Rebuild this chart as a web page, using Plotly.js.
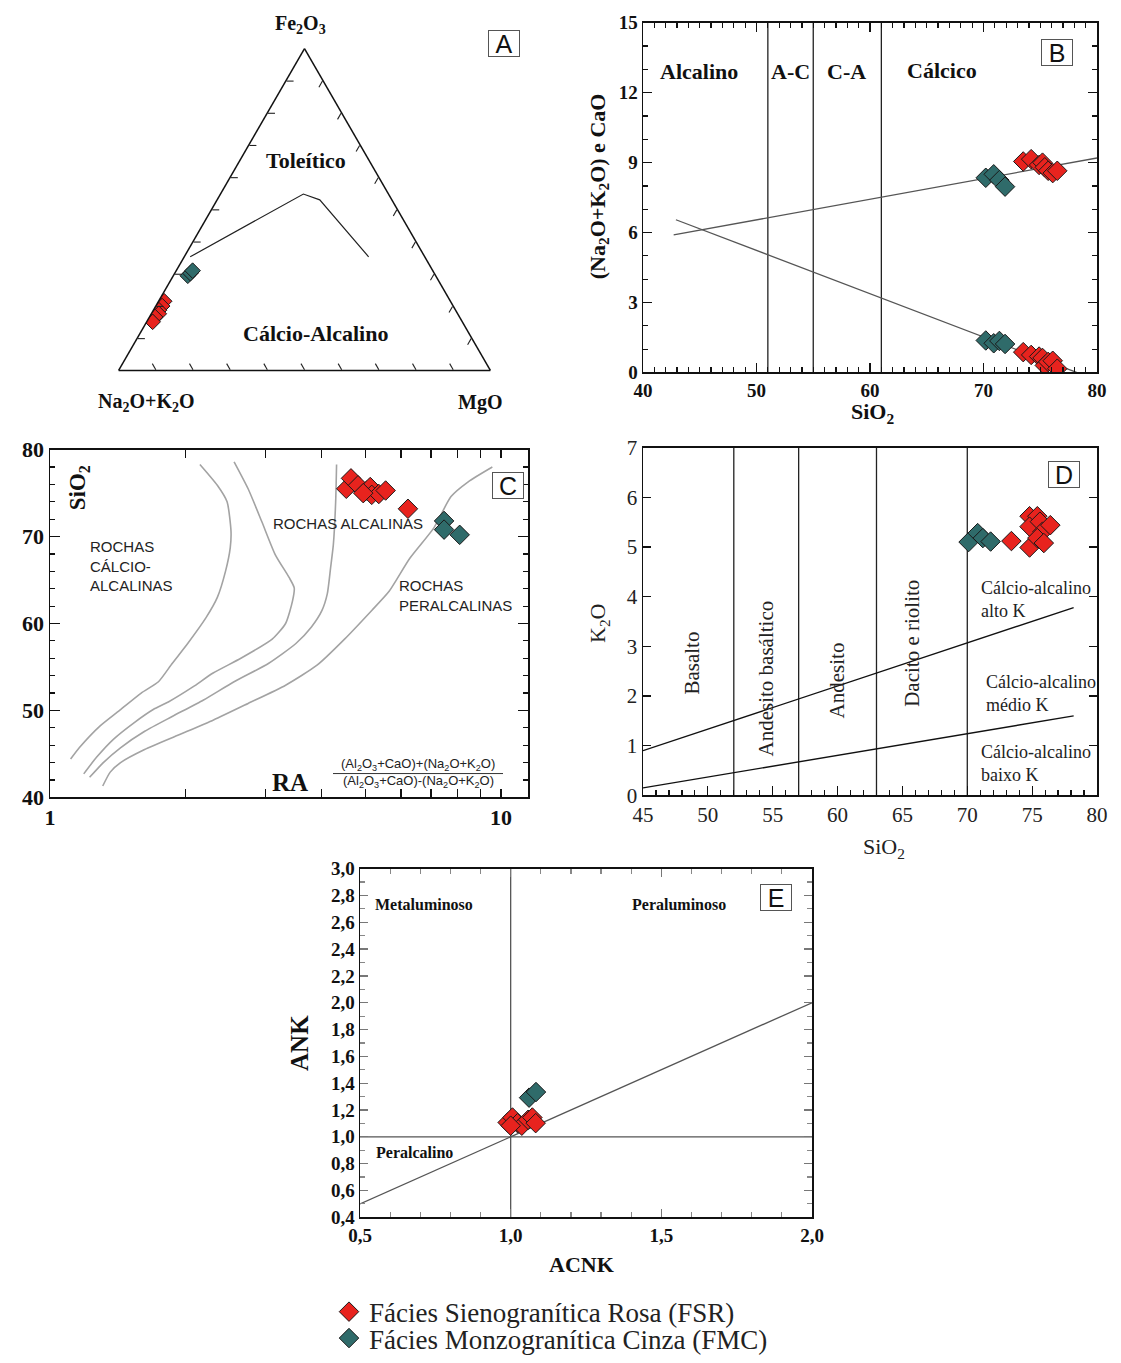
<!DOCTYPE html>
<html>
<head>
<meta charset="utf-8">
<script src="https://cdn.plot.ly/plotly-3.0.1.min.js"></script>
<style>html,body{margin:0;padding:0;background:#fff;}#chart{width:1121px;height:1363px;}</style>
</head>
<body>
<div id="chart"></div>
<script>
// ---------------- DATA ----------------
// Panel A (AFM ternary): a = Fe2O3, b = Na2O+K2O, c = MgO
const FSR_A_Fe  = [21.5, 20.0, 18.7, 17.6, 16.6, 15.1];
const FSR_A_Alk = [77.0, 78.3, 79.8, 80.4, 81.9, 83.3];
const FSR_A_Mg  = [1.5, 1.7, 1.5, 2.0, 1.5, 1.6];
const FMC_A_Fe  = [29.4, 30.2, 31.0];
const FMC_A_Alk = [66.7, 65.6, 64.6];
const FMC_A_Mg  = [3.9, 4.2, 4.4];
const A_line_Fe  = [35.3, 54.8, 53.0, 35.3];
const A_line_Alk = [63.1, 22.9, 19.4, 15.1];
const A_line_Mg  = [1.6, 22.3, 27.6, 49.6];

// Panel B (Peacock)
const FSR_B_SiO2 = [73.5, 74.2, 74.9, 75.2, 75.4, 75.7, 76.1, 76.5];
const FSR_B_Alk  = [9.05, 9.15, 8.9, 9.0, 8.8, 8.65, 8.55, 8.65];
const FSR_B_CaO  = [0.87, 0.75, 0.68, 0.62, 0.3, 0.45, 0.5, 0.16];
const FMC_B_SiO2 = [70.2, 70.9, 71.4, 71.9];
const FMC_B_Alk  = [8.35, 8.5, 8.25, 7.97];
const FMC_B_CaO  = [1.37, 1.25, 1.35, 1.22];
const B_alk_line_x = [42.7, 80.0], B_alk_line_y = [5.9, 9.2];
const B_cao_line_x = [42.9, 78.2], B_cao_line_y = [6.55, 0.0];
const B_dividers = [51, 55, 61];

// Panel C (Wright RA)
const FSR_C_RA   = [4.54, 4.65, 4.82, 5.04, 5.13, 5.17, 5.36, 5.55, 6.22, 4.95];
const FSR_C_SiO2 = [75.5, 76.7, 75.9, 75.3, 75.7, 74.8, 74.9, 75.3, 73.2, 75.0];
const FMC_C_RA   = [7.48, 7.48, 8.10];
const FMC_C_SiO2 = [71.8, 70.8, 70.2];
const C_curve1_RA = [1.111,1.161,1.290,1.434,1.593,1.740,1.866,2.02,2.22,2.35,2.45,2.51,2.52,2.47,2.35,2.15];
const C_curve1_Si = [44.4,45.7,48.2,50.1,52.0,53.3,55.4,57.7,60.7,63.0,66.0,68.7,70.6,74.0,75.9,78.3];
const C_curve2_RA = [1.188,1.268,1.384,1.538,1.694,1.834,2.074,2.30,2.65,3.11,3.33,3.45,3.48,3.39,3.16,2.95,2.75,2.56];
const C_curve2_Si = [42.7,44.6,46.7,48.6,50.1,51.0,52.7,54.3,56.0,58.2,60.0,62.6,64.1,65.3,67.9,71.7,75.5,78.6];
const C_curve3_RA = [1.224,1.313,1.433,1.622,1.866,2.19,2.56,3.05,3.51,3.80,4.01,4.12,4.19,4.25,4.30,4.32];
const C_curve3_Si = [42.3,44.0,45.7,47.6,49.3,51.2,53.3,55.4,57.7,59.6,61.5,63.4,66.4,69.1,74.0,78.3];
const C_curve4_RA = [1.309,1.360,1.434,1.621,1.933,2.305,2.75,3.33,3.91,4.50,5.17,5.65,6.28,7.10,7.75,8.46,9.57];
const C_curve4_Si = [41.3,42.9,44.0,45.5,47.2,48.9,50.8,52.9,55.2,58.2,61.5,63.7,67.5,71.0,74.6,76.3,78.0];
const C_major_ticks = [1, 10];
const C_minor_ticks = [2, 3, 4, 5, 6, 7, 8, 9];

// Panel D (K2O x SiO2)
const FSR_D_SiO2 = [73.4, 74.8, 75.4, 74.8, 74.8, 75.6, 75.8, 75.4, 75.9, 76.4];
const FSR_D_K2O  = [5.12, 5.62, 5.62, 5.41, 4.99, 5.51, 5.31, 5.18, 5.08, 5.44];
const FMC_D_SiO2 = [70.1, 70.8, 71.2, 71.8];
const FMC_D_K2O  = [5.10, 5.28, 5.18, 5.11];
const D_high_x = [45, 78.2], D_high_y = [0.9, 3.78];
const D_low_x  = [45, 78.2], D_low_y  = [0.15, 1.6];
const D_dividers = [52, 57, 63, 70];

// Panel E (Shand)
const FSR_E_ACNK = [0.99, 1.006, 1.023, 1.037, 1.058, 1.072, 1.083, 1.0];
const FSR_E_ANK  = [1.107, 1.144, 1.102, 1.083, 1.127, 1.144, 1.102, 1.083];
const FMC_E_ACNK = [1.061, 1.084];
const FMC_E_ANK  = [1.292, 1.334];
const E_diag = [0.5, 2.0];

const seriesNames = ['Fácies Sienogranítica Rosa (FSR)', 'Fácies Monzogranítica Cinza (FMC)'];

// ---------------- STYLE ----------------
const W = 1121, H = 1363;
const px = v => v / W, py = v => 1 - v / H;
const RED = '#e8231e', TEAL = '#2f6b6a';
const SERIF = 'Liberation Serif, Times New Roman, serif';
const SANS = 'Liberation Sans, Arial, sans-serif';
const serifB = s => ({family: SERIF, size: s, color: '#111', weight: 'bold'});
const serifR = s => ({family: SERIF, size: s, color: '#222'});
const sans = s => ({family: SANS, size: s, color: '#222'});
const mk = (c, s) => ({symbol: 'diamond', size: s || 15, color: c, line: {color: '#1a1a1a', width: 1}});

const traces = [];
// A
traces.push({type:'scatterternary', subplot:'ternary', mode:'lines', a:A_line_Fe, b:A_line_Alk, c:A_line_Mg,
  line:{color:'#222', width:1.2}, showlegend:false, hoverinfo:'skip'});
traces.push({type:'scatterternary', subplot:'ternary', mode:'markers', a:FSR_A_Fe, b:FSR_A_Alk, c:FSR_A_Mg,
  marker:mk(RED, 12), showlegend:false});
traces.push({type:'scatterternary', subplot:'ternary', mode:'markers', a:FMC_A_Fe, b:FMC_A_Alk, c:FMC_A_Mg,
  marker:mk(TEAL, 12), showlegend:false});

// B
B_dividers.forEach(v => traces.push({x:[v, v], y:[0, 15], xaxis:'x', yaxis:'y', mode:'lines',
  line:{color:'#222', width:1.3}, showlegend:false, hoverinfo:'skip'}));
traces.push({x:B_alk_line_x, y:B_alk_line_y, xaxis:'x', yaxis:'y', mode:'lines', line:{color:'#555', width:1.3}, showlegend:false});
traces.push({x:B_cao_line_x, y:B_cao_line_y, xaxis:'x', yaxis:'y', mode:'lines', line:{color:'#555', width:1.3}, showlegend:false});
traces.push({x:FMC_B_SiO2, y:FMC_B_Alk, xaxis:'x', yaxis:'y', mode:'markers', marker:mk(TEAL), name:seriesNames[1], legend:'legend2', showlegend:true});
traces.push({x:FMC_B_SiO2, y:FMC_B_CaO, xaxis:'x', yaxis:'y', mode:'markers', marker:mk(TEAL), showlegend:false});
traces.push({x:FSR_B_SiO2, y:FSR_B_Alk, xaxis:'x', yaxis:'y', mode:'markers', marker:mk(RED), name:seriesNames[0], legend:'legend', showlegend:true});
traces.push({x:FSR_B_SiO2, y:FSR_B_CaO, xaxis:'x', yaxis:'y', mode:'markers', marker:mk(RED), showlegend:false});

// C
[[C_curve1_RA, C_curve1_Si], [C_curve2_RA, C_curve2_Si], [C_curve3_RA, C_curve3_Si], [C_curve4_RA, C_curve4_Si]].forEach(c =>
  traces.push({x:c[0], y:c[1], xaxis:'x2', yaxis:'y2', mode:'lines', line:{color:'#a3a3a3', width:1.6, shape:'spline', smoothing:0.6}, showlegend:false, hoverinfo:'skip'}));
traces.push({x:FSR_C_RA, y:FSR_C_SiO2, xaxis:'x2', yaxis:'y2', mode:'markers', marker:mk(RED), showlegend:false});
traces.push({x:FMC_C_RA, y:FMC_C_SiO2, xaxis:'x2', yaxis:'y2', mode:'markers', marker:mk(TEAL), showlegend:false});

// D
D_dividers.forEach(v => traces.push({x:[v, v], y:[0, 7], xaxis:'x3', yaxis:'y3', mode:'lines',
  line:{color:'#222', width:1.3}, showlegend:false, hoverinfo:'skip'}));
traces.push({x:D_high_x, y:D_high_y, xaxis:'x3', yaxis:'y3', mode:'lines', line:{color:'#111', width:1.4}, showlegend:false});
traces.push({x:D_low_x, y:D_low_y, xaxis:'x3', yaxis:'y3', mode:'lines', line:{color:'#111', width:1.4}, showlegend:false});
traces.push({x:FMC_D_SiO2, y:FMC_D_K2O, xaxis:'x3', yaxis:'y3', mode:'markers', marker:mk(TEAL), showlegend:false});
traces.push({x:FSR_D_SiO2, y:FSR_D_K2O, xaxis:'x3', yaxis:'y3', mode:'markers', marker:mk(RED), showlegend:false});

// E
traces.push({x:[1, 1], y:[0.4, 3.0], xaxis:'x4', yaxis:'y4', mode:'lines', line:{color:'#555', width:1.3}, showlegend:false, hoverinfo:'skip'});
traces.push({x:[0.5, 2.0], y:[1, 1], xaxis:'x4', yaxis:'y4', mode:'lines', line:{color:'#555', width:1.3}, showlegend:false, hoverinfo:'skip'});
traces.push({x:E_diag, y:E_diag, xaxis:'x4', yaxis:'y4', mode:'lines', line:{color:'#555', width:1.3}, showlegend:false, hoverinfo:'skip'});
traces.push({x:FMC_E_ACNK, y:FMC_E_ANK, xaxis:'x4', yaxis:'y4', mode:'markers', marker:mk(TEAL), showlegend:false});
traces.push({x:FSR_E_ACNK, y:FSR_E_ANK, xaxis:'x4', yaxis:'y4', mode:'markers', marker:mk(RED), showlegend:false});

// ---------------- AXES ----------------
function ax(o) {
  return Object.assign({showline:true, linecolor:'#111', linewidth:1.5, mirror:'ticks', ticks:'inside',
    tickcolor:'#111', tickwidth:1.2, ticklen:9, showgrid:false, zeroline:false, fixedrange:true}, o);
}
const dom = (a, b) => [a / W, b / W];
const domY = (top, bot) => [1 - bot / H, 1 - top / H];

const tern = () => ({title:{text:''}, showticklabels:false, ticks:'inside', ticklen:7, tickwidth:1.1, tickcolor:'#222',
  dtick:10, linecolor:'#111', linewidth:1.5, showgrid:false, min:0});

const A = (text, x, y, font, extra) => Object.assign({text, x:px(x), y:py(y), xref:'paper', yref:'paper',
  showarrow:false, font, xanchor:'center', yanchor:'middle'}, extra || {});
const box = (t, x, y) => A(t, x, y, {family:SANS, size:25, color:'#111'},
  {bordercolor:'#555', borderwidth:1, borderpad:1, bgcolor:'#fff', width:28, height:23});

const annotations = [
  // A
  A('Fe<sub>2</sub>O<sub>3</sub>', 300, 25, serifB(20)),
  A('Na<sub>2</sub>O+K<sub>2</sub>O', 146, 406, serifB(20)),
  A('MgO', 480, 406, serifB(20)),
  A('Toleítico', 306, 162, serifB(22)),
  A('Cálcio-Alcalino', 315, 337, serifB(22)),
  box('A', 504, 44),
  // B
  A('Alcalino', 699, 72, serifB(22)),
  A('A-C', 790, 72, serifB(22)),
  A('C-A', 846, 72, serifB(22)),
  A('Cálcico', 942, 71, serifB(22)),
  box('B', 1057, 53),
  A('(Na<sub>2</sub>O+K<sub>2</sub>O) e CaO', 599, 188, serifB(22), {textangle:-90}),
  A('SiO<sub>2</sub>', 872, 417, serifB(22)),
  // C
  A('ROCHAS<br>CÁLCIO-<br>ALCALINAS', 88, 571, sans(15), {xanchor:'left', align:'left'}),
  A('ROCHAS ALCALINAS', 348, 529, sans(15)),
  A('ROCHAS<br>PERALCALINAS', 397, 601, sans(15), {xanchor:'left', align:'left'}),
  A('SiO<sub>2</sub>', 79, 493, serifB(23), {textangle:-90}),
  A('RA', 290, 790, serifB(25)),
  A('(Al<sub>2</sub>O<sub>3</sub>+CaO)+(Na<sub>2</sub>O+K<sub>2</sub>O)', 418, 772, sans(13)),
  A('(Al<sub>2</sub>O<sub>3</sub>+CaO)-(Na<sub>2</sub>O+K<sub>2</sub>O)', 418, 789, sans(13)),
  box('C', 508, 490),
  // D
  A('Basalto', 692, 670, serifR(21), {textangle:-90}),
  A('Andesito basáltico', 766, 685, serifR(21), {textangle:-90}),
  A('Andesito', 837, 687, serifR(21), {textangle:-90}),
  A('Dacito e riolito', 912, 650, serifR(21), {textangle:-90}),
  A('Cálcio-alcalino<br>alto K', 979, 605, serifR(18), {xanchor:'left', align:'left'}),
  A('Cálcio-alcalino<br>médio K', 984, 700, serifR(18), {xanchor:'left', align:'left'}),
  A('Cálcio-alcalino<br>baixo K', 979, 771, serifR(18), {xanchor:'left', align:'left'}),
  box('D', 1064, 479),
  A('K<sub>2</sub>O', 599, 630, serifR(22), {textangle:-90}),
  A('SiO<sub>2</sub>', 884, 856, serifR(22)),
  // E
  A('Metaluminoso', 424, 913, serifB(16)),
  A('Peraluminoso', 679, 913, serifB(16)),
  A('Peralcalino', 414, 1164, serifB(16)),
  box('E', 776, 906),
  A('ANK', 300, 1053, serifB(25), {textangle:-90}),
  A('ACNK', 581, 1277, serifB(22)),
];

const shapes = [
  {type:'line', xref:'paper', yref:'paper', x0:px(333), x1:px(503), y0:py(781), y1:py(781), line:{color:'#333', width:1}}
];

const layout = {
  width: W, height: H, margin:{l:0, r:0, t:0, b:0},
  paper_bgcolor:'#fff', plot_bgcolor:'#fff',
  separators: ',.',
  showlegend: true,
  font:{family:SERIF, color:'#111'},
  ternary:{domain:{x:dom(117, 492), y:domY(49, 374)}, sum:100, bgcolor:'#fff',
    aaxis:tern(), baxis:tern(), caxis:tern()},
  // B
  xaxis: ax({domain:dom(643, 1097), anchor:'y', range:[40, 80], dtick:10, tickfont:serifB(19),
    minor:{dtick:1, ticklen:5, tickcolor:'#111', ticks:'inside'}}),
  yaxis: ax({domain:domY(23, 376), anchor:'x', range:[0, 15], dtick:3, tickfont:serifB(19),
    minor:{dtick:1, ticklen:5, tickcolor:'#111', ticks:'inside'}}),
  // C
  xaxis2: ax({domain:dom(50, 528), anchor:'y2', type:'log', range:[0, 1.06],
    tickmode:'array', tickvals:C_major_ticks, ticktext:C_major_ticks.map(String), tickfont:serifB(22), ticklen:8,
    minor:{tickmode:'array', tickvals:C_minor_ticks, ticklen:8, tickcolor:'#111', ticks:'inside'}}),
  yaxis2: ax({domain:domY(454, 805), anchor:'x2', range:[40, 80], dtick:10, tickfont:serifB(22), ticklen:10,
    minor:{dtick:2, ticklen:5, tickcolor:'#111', ticks:'inside'}}),
  // D
  xaxis3: ax({domain:dom(643, 1097), anchor:'y3', range:[45, 80], dtick:5, tickfont:serifR(21), mirror:true,
    ticklen:9, minor:{dtick:1, ticklen:5, tickcolor:'#111', ticks:'inside'}}),
  yaxis3: ax({domain:domY(452, 803), anchor:'x3', range:[0, 7], dtick:1, tickfont:serifR(21), ticklen:8}),
  // E
  xaxis4: ax({domain:dom(360, 812), anchor:'y4', range:[0.5, 2.0], dtick:0.5, tickformat:'.1f', tickfont:serifB(19),
    tickcolor:'#777', ticklen:8, minor:{dtick:0.1, ticklen:5, tickcolor:'#888', ticks:'inside'}}),
  yaxis4: ax({domain:domY(877, 1229), anchor:'x4', range:[0.4, 3.0], dtick:0.2, tickformat:'.1f', tickfont:serifB(19),
    tickcolor:'#777', ticklen:8, minor:{dtick:0.1, ticklen:5, tickcolor:'#888', ticks:'inside'}}),
  legend:{x:px(329), y:py(1300), xanchor:'left', yanchor:'top', font:serifR(27), bgcolor:'rgba(0,0,0,0)', borderwidth:0},
  legend2:{x:px(329), y:py(1327), xanchor:'left', yanchor:'top', font:serifR(27), bgcolor:'rgba(0,0,0,0)', borderwidth:0},
  annotations, shapes
};

Plotly.newPlot('chart', traces, layout, {displayModeBar:false, staticPlot:true});
</script>
</body>
</html>
